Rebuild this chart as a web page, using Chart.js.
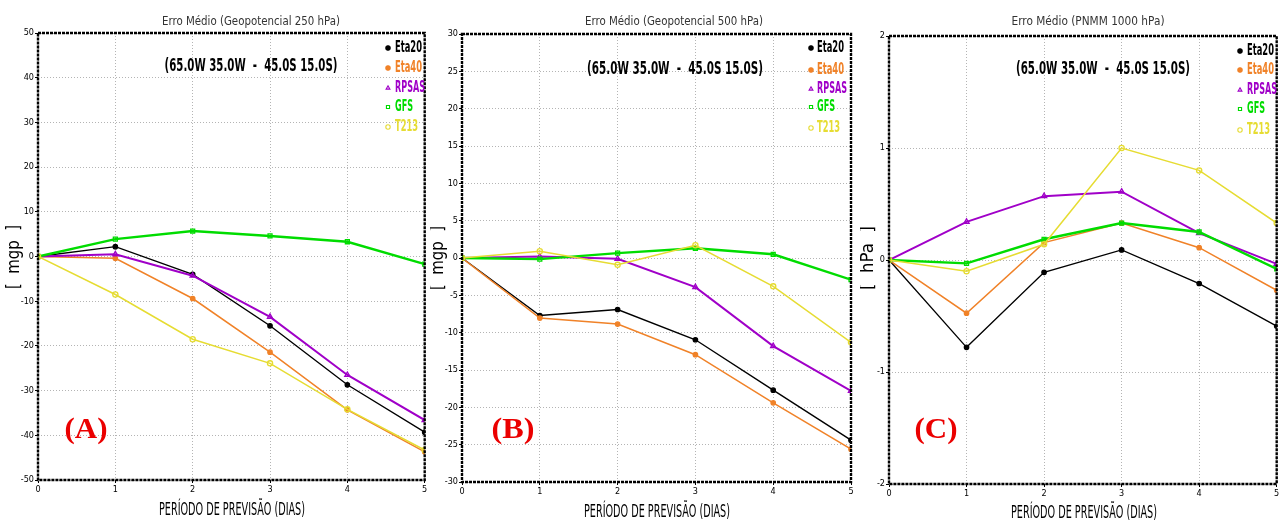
<!DOCTYPE html>
<html>
<head>
<meta charset="utf-8">
<script src="https://cdn.jsdelivr.net/npm/chart.js@4"></script>
<style>
html,body{margin:0;padding:0;background:#fff;}
#wrap{position:relative;width:1282px;height:525px;overflow:hidden;background:#fff;}
canvas{position:absolute;top:0;}
</style>
</head>
<body>
<div id="wrap">
<canvas id="cA" width="430" height="525" style="left:0px"></canvas>
<canvas id="cB" width="430" height="525" style="left:430px"></canvas>
<canvas id="cC" width="422" height="525" style="left:860px"></canvas>
</div>
<script>
// ---------- DATA ----------
const days = [0, 1, 2, 3, 4, 5];
const seriesNames = ['Eta20', 'Eta40', 'RPSAS', 'GFS', 'T213'];

// (A) Geopotencial 250 hPa  [mgp]
const z250Eta20 = [0, 2.2, -4.0, -15.5, -28.7, -39.3];
const z250Eta40 = [0, -0.4, -9.4, -21.4, -34.3, -43.7];
const z250RPSAS = [0, 0.5, -4.3, -13.5, -26.5, -36.6];
const z250GFS   = [0, 3.9, 5.7, 4.6, 3.3, -1.7];
const z250T213  = [0, -8.5, -18.5, -23.9, -34.2, -43.3];

// (B) Geopotencial 500 hPa  [mgp]
const z500Eta20 = [0, -7.7, -6.9, -10.95, -17.7, -24.4];
const z500Eta40 = [0, -8.05, -8.85, -12.95, -19.4, -25.6];
const z500RPSAS = [0, 0.2, -0.1, -3.9, -11.8, -17.8];
const z500GFS   = [0, -0.15, 0.65, 1.3, 0.5, -2.9];
const z500T213  = [0, 0.9, -0.9, 1.7, -3.8, -11.3];

// (C) PNMM 1000 hPa  [hPa]
const pnmmEta20 = [0, -0.78, -0.11, 0.09, -0.21, -0.59];
const pnmmEta40 = [0, -0.475, 0.155, 0.33, 0.11, -0.27];
const pnmmRPSAS = [0, 0.34, 0.57, 0.61, 0.24, -0.035];
const pnmmGFS   = [0, -0.03, 0.185, 0.33, 0.25, -0.08];
const pnmmT213  = [0, -0.10, 0.14, 1.00, 0.80, 0.33];

// axis ranges [min, max, step]
const yRangeA = [-50, 50, 10];
const yRangeB = [-30, 30, 5];
const yRangeC = [-2, 2, 1];
const xRange  = [0, 5, 1];

// texts
const titleA = 'Erro Médio (Geopotencial 250 hPa)';
const titleB = 'Erro Médio (Geopotencial 500 hPa)';
const titleC = 'Erro Médio (PNMM 1000 hPa)';
const regionText = '(65.0W 35.0W  -  45.0S 15.0S)';
const xLabel = 'PERÍODO DE PREVISÃO (DIAS)';
const yLabelZ = '[  mgp  ]';
const yLabelP = '[  hPa  ]';

// ---------- STYLES ----------
const seriesStyle = [
  {color:'rgb(0,0,0)',      width:1.4, point:'circle',   r:2.2, fill:true},
  {color:'rgb(240,130,40)', width:1.5, point:'circle',   r:2.2, fill:true},
  {color:'rgb(160,0,200)',  width:2.0, point:'triangle', r:3.0, fill:false},
  {color:'rgb(0,220,0)',    width:2.4, point:'rect',     r:2.8, fill:false},
  {color:'rgb(230,220,50)', width:1.5, point:'circle',   r:2.6, fill:false}
];

function drawFit(ctx, text, x, y, font, color, width, align, rot) {
  ctx.save();
  ctx.font = font;
  const w = ctx.measureText(text).width;
  const s = width ? width / w : 1;
  ctx.translate(x, y);
  if (rot) ctx.rotate(rot);
  ctx.scale(s, 1);
  ctx.textAlign = align || 'center';
  ctx.textBaseline = 'middle';
  ctx.fillStyle = color;
  ctx.fillText(text, 0, 0);
  ctx.restore();
}

const annotPlugin = {
  id: 'annot',
  afterDatasetsDraw(chart) {
    const ctx = chart.ctx, a = chart.chartArea;
    ctx.save();
    ctx.strokeStyle = '#000';
    ctx.lineWidth = 2.4;
    ctx.setLineDash([3, 1]);
    ctx.strokeRect(a.left, a.top, a.right - a.left, a.bottom - a.top);
    ctx.restore();
  },
  afterDraw(chart) {
    const o = chart.options.plugins.annot;
    const ctx = chart.ctx;
    drawFit(ctx, o.title, o.titleX, 22, '13px "DejaVu Sans"', '#333', o.titleW);
    drawFit(ctx, regionText, o.regX, o.regY, 'bold 17px "DejaVu Sans"', '#000', o.regW);
    drawFit(ctx, xLabel, o.xlX, o.xlY, '17px "DejaVu Sans"', '#000', 146);
    drawFit(ctx, o.yLabel, o.ylX, o.ylY, '17px "DejaVu Sans"', '#000', 64, 'center', -Math.PI / 2);
    drawFit(ctx, o.tag, o.tagX, 430, 'bold 30px "Liberation Serif"', 'rgb(235,0,0)', 43);
    const legW = [27, 27, 30, 18, 23];
    seriesNames.forEach((n, i) => {
      const st = seriesStyle[i];
      const y = o.legY[i];
      ctx.save();
      ctx.strokeStyle = st.color;
      ctx.fillStyle = st.fill ? st.color : 'rgba(0,0,0,0)';
      ctx.lineWidth = 1.1;
      Chart.helpers.drawPoint(ctx, {pointStyle: st.point, radius: 2.2, rotation: 0, borderWidth: 1.1}, o.legMX, y);
      if (st.fill) ctx.fill();
      ctx.restore();
      drawFit(ctx, n, o.legTX, y, 'bold 15px "DejaVu Sans"', st.color, legW[i], 'left');
    });
  }
};

function makeChart(id, series, yRange, layout, annot) {
  const datasets = series.map((vals, i) => {
    const st = seriesStyle[i];
    return {
      label: seriesNames[i],
      data: days.map((d, k) => ({x: d, y: vals[k]})),
      borderColor: st.color,
      backgroundColor: st.fill ? st.color : 'rgba(0,0,0,0)',
      borderWidth: st.width,
      pointStyle: st.point,
      pointRadius: st.r,
      pointBorderWidth: 1.3,
      pointBackgroundColor: st.fill ? st.color : 'rgba(0,0,0,0)',
      pointBorderColor: st.color,
      tension: 0,
      order: series.length - i
    };
  });
  return new Chart(document.getElementById(id), {
    type: 'line',
    data: {datasets},
    plugins: [annotPlugin],
    options: {
      responsive: false,
      animation: false,
      devicePixelRatio: 1,
      layout: {padding: {left: 0, right: layout.right, top: layout.top, bottom: 0}},
      plugins: {legend: {display: false}, tooltip: {enabled: false}, title: {display: false}, annot},
      scales: {
        x: {
          type: 'linear', min: xRange[0], max: xRange[1],
          ticks: {stepSize: xRange[2], color: '#000', font: {family: '"DejaVu Sans Condensed"', size: 9}, padding: 1, maxRotation: 0},
          grid: {color: '#b4b4b4', lineWidth: 1, tickLength: 3, tickColor: '#000'},
          border: {display: false, dash: [1, 2]},
          afterFit(s) { s.height = layout.xh; }
        },
        y: {
          type: 'linear', min: yRange[0], max: yRange[1],
          ticks: {stepSize: yRange[2], color: '#000', font: {family: '"DejaVu Sans Condensed"', size: 9}, padding: 1},
          grid: {color: '#b4b4b4', lineWidth: 1, tickLength: 3, tickColor: '#000'},
          border: {display: false, dash: [1, 2]},
          afterFit(s) { s.width = layout.left; }
        }
      }
    }
  });
}

makeChart('cA', [z250Eta20, z250Eta40, z250RPSAS, z250GFS, z250T213], yRangeA,
  {left: 38, right: 3, top: 33, xh: 45},
  {title: titleA, titleX: 251, titleW: 178, regX: 251, regY: 67, regW: 173,
   xlX: 232, xlY: 511, yLabel: yLabelZ, ylX: 15, ylY: 257, tag: '(A)', tagX: 86,
   legMX: 388, legTX: 395, legY: [48, 68, 88, 107, 127]});

makeChart('cB', [z500Eta20, z500Eta40, z500RPSAS, z500GFS, z500T213], yRangeB,
  {left: 32, right: 9, top: 34, xh: 43},
  {title: titleB, titleX: 244, titleW: 178, regX: 245, regY: 70, regW: 176,
   xlX: 227, xlY: 513, yLabel: yLabelZ, ylX: 9, ylY: 258, tag: '(B)', tagX: 83,
   legMX: 381, legTX: 387, legY: [48, 70, 89, 107, 128]});

makeChart('cC', [pnmmEta20, pnmmEta40, pnmmRPSAS, pnmmGFS, pnmmT213], yRangeC,
  {left: 29, right: 4, top: 36, xh: 41},
  {title: titleC, titleX: 228, titleW: 153, regX: 243, regY: 70, regW: 174,
   xlX: 224, xlY: 514, yLabel: yLabelP, ylX: 9, ylY: 258, tag: '(C)', tagX: 76,
   legMX: 380, legTX: 387, legY: [51, 70, 90, 109, 130]});
</script>
</body>
</html>
